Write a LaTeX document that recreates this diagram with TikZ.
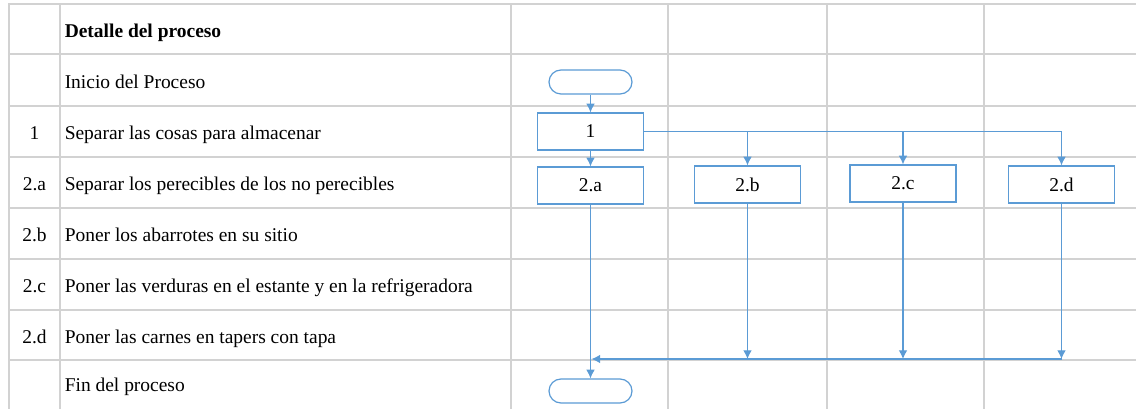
\documentclass[tikz,border=0pt]{standalone}
\usepackage{fontspec}
\setmainfont{Liberation Serif}
\usetikzlibrary{arrows.meta}

\definecolor{azul}{RGB}{91,155,213}
\definecolor{rejilla}{RGB}{210,210,210}

\begin{document}
\begin{tikzpicture}[x=0.75pt, y=-0.75pt, font=\fontsize{14.6}{17}\selectfont]
	\tikzstyle{paso}     = [rectangle, minimum width=79.5pt, minimum height=27.75pt, inner sep=0pt, draw=azul, line width=0.9pt, fill=white]
	\tikzstyle{terminal} = [rectangle, rounded corners=9pt, minimum width=62.25pt, minimum height=18pt, inner sep=0pt, draw=azul, line width=0.9pt, fill=white]
	\tikzstyle{flecha}   = [draw=azul, line width=0.9pt, -{Latex[length=6.5pt, width=6.5pt]}]
	\tikzstyle{linea}    = [draw=rejilla, line width=1.5pt, line cap=rect]
	\tikzstyle{celda}    = [anchor=base west, inner sep=0pt]

	\useasboundingbox (0,0) rectangle (1136,409);

	% rejilla de la tabla
	\foreach \y in {4.5, 54.5, 106, 157, 208, 259, 310, 360}
		\draw[linea] (8.5,\y) -- (1136,\y);
	\foreach \x in {8.5, 60, 511, 668, 827, 984}
		\draw[linea] (\x,4.5) -- (\x,409);

	% columnas de texto
	\node[celda, font=\fontsize{14.6}{17}\selectfont\bfseries] (det0) at (64.5,38) {Detalle del proceso};
	\foreach \i/\y/\texto in {1/88.5/Inicio del Proceso, 2/140/Separar las cosas para almacenar, 3/191/Separar los perecibles de los no perecibles, 4/242/Poner los abarrotes en su sitio, 5/293/Poner las verduras en el estante y en la refrigeradora, 6/343.5/Poner las carnes en tapers con tapa, 7/392/Fin del proceso}
		\node[celda] (det\i) at (64.5,\y) {\texto};
	\foreach \i/\num/\y in {2/1/140, 3/2.a/191, 4/2.b/242, 5/2.c/293, 6/2.d/343.5}
		\node[anchor=base] (num\i) at (34.5,\y) {\num};

	% diagrama
	\node[terminal] (ini) at (590.5, 82) {};
	\foreach \nombre/\texto/\x/\y in {1/1/590.5/131.5, 2a/2.a/590.5/185.5, 2b/2.b/747.5/184.5, 2c/2.c/903/183.5, 2d/2.d/1061.5/184.5}
		\node[paso] (\nombre) at (\x, \y) {\texto};
	\node[terminal] (fin) at (590.5, 391) {};
	\coordinate (junta) at (591.5, 359);

	\draw[flecha] (ini) -- (1);
	\draw[flecha] (1) -- (2a);
	\draw[flecha] (1) -| (2d);
	\foreach \to in {2b, 2c}
		\draw[flecha] (\to |- 1) -- (\to);

	\draw[flecha] (2a) -- (fin);
	\foreach \from in {2b, 2c, 2d}
		\draw[flecha] (\from) -- (\from |- junta);
	\draw[flecha] (2d |- junta) -- (junta);

\end{tikzpicture}
\end{document}
